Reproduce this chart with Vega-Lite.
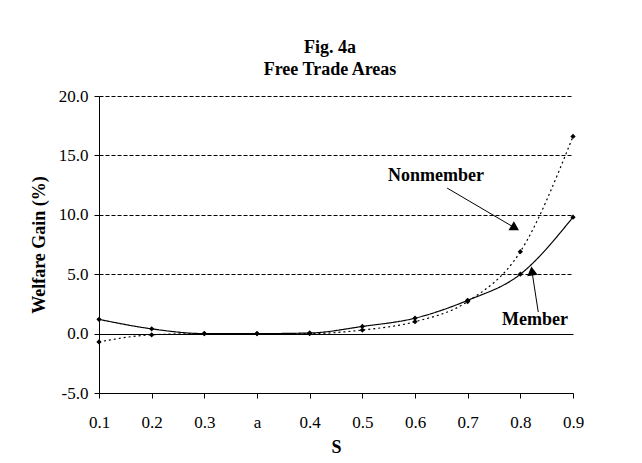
{
  "$schema": "https://vega.github.io/schema/vega-lite/v6.json",
  "width": 474,
  "height": 297,
  "autosize": {"type": "none"},
  "padding": {"left": 99, "top": 96, "right": 69, "bottom": 70},
  "background": "white",
  "config": {
    "view": {"stroke": null},
    "font": "Liberation Serif",
    "axis": {"labelFont": "Liberation Serif", "titleFont": "Liberation Serif", "labelColor": "black", "titleColor": "black", "domainColor": "black", "tickColor": "black", "domain": true, "domainWidth": 1}
  },
  "title": {
    "text": ["Fig. 4a", "Free Trade Areas"],
    "font": "Liberation Serif",
    "fontSize": 18,
    "fontWeight": "bold",
    "color": "black",
    "lineHeight": 22,
    "offset": 8,
    "dx": -6
  },
  "datasets": {
    "gain": [
      {"S": "0.1", "i": 0, "series": "Member", "value": 1.2},
      {"S": "0.2", "i": 1, "series": "Member", "value": 0.4},
      {"S": "0.3", "i": 2, "series": "Member", "value": 0.0},
      {"S": "a", "i": 3, "series": "Member", "value": 0.0},
      {"S": "0.4", "i": 4, "series": "Member", "value": 0.05},
      {"S": "0.5", "i": 5, "series": "Member", "value": 0.6},
      {"S": "0.6", "i": 6, "series": "Member", "value": 1.3},
      {"S": "0.7", "i": 7, "series": "Member", "value": 2.8},
      {"S": "0.8", "i": 8, "series": "Member", "value": 5.0},
      {"S": "0.9", "i": 9, "series": "Member", "value": 9.8},
      {"S": "0.1", "i": 0, "series": "Nonmember", "value": -0.7},
      {"S": "0.2", "i": 1, "series": "Nonmember", "value": -0.1},
      {"S": "0.3", "i": 2, "series": "Nonmember", "value": 0.0},
      {"S": "a", "i": 3, "series": "Nonmember", "value": 0.0},
      {"S": "0.4", "i": 4, "series": "Nonmember", "value": 0.0},
      {"S": "0.5", "i": 5, "series": "Nonmember", "value": 0.3},
      {"S": "0.6", "i": 6, "series": "Nonmember", "value": 1.0},
      {"S": "0.7", "i": 7, "series": "Nonmember", "value": 2.7},
      {"S": "0.8", "i": 8, "series": "Nonmember", "value": 6.9},
      {"S": "0.9", "i": 9, "series": "Nonmember", "value": 16.6}
    ],
    "notes": [
      {"name": "Nonmember", "tx": 6.40, "ty": 13.27, "ax": 6.61, "ay": 12.25, "hx": 7.9, "hy": 8.89},
      {"name": "Member", "tx": 8.28, "ty": 1.14, "ax": 8.34, "ay": 1.82, "hx": 8.22, "hy": 5.27}
    ]
  },
  "layer": [
    {
      "data": {"name": "gain"},
      "mark": {"type": "line", "color": "black", "strokeWidth": 1.2, "interpolate": "monotone"},
      "encoding": {
        "x": {
          "field": "i", "type": "quantitative",
          "scale": {"domain": [0, 9], "nice": false, "zero": false},
          "axis": {
            "title": "S", "titleFontSize": 18, "titleFontWeight": "bold", "titlePadding": 8,
            "values": [0, 1, 2, 3, 4, 5, 6, 7, 8, 9],
            "labelExpr": "['0.1','0.2','0.3','a','0.4','0.5','0.6','0.7','0.8','0.9'][datum.value]",
            "labelFontSize": 17, "labelPadding": 16, "tickSize": 5, "grid": false, "labelFlush": false
          }
        },
        "y": {
          "field": "value", "type": "quantitative",
          "scale": {"domain": [-5, 20], "nice": false, "zero": false},
          "axis": {
            "title": "Welfare Gain (%)", "titleFontSize": 18, "titleFontWeight": "bold", "titlePadding": 10,
            "values": [-5, -2.5, 0, 2.5, 5, 7.5, 10, 12.5, 15, 17.5, 20],
            "labelExpr": "datum.value % 5 == 0 ? replace(format(datum.value, '.1f'), '\u2212', '-') : ''",
            "labelFontSize": 17, "labelPadding": 6, "tickSize": 5, "domain": true,
            "grid": true, "gridColor": "black", "gridWidth": 1,
            "gridOpacity": {"condition": {"test": "datum.value % 5 == 0 && datum.value > -5", "value": 1}, "value": 0},
            "gridDash": {"condition": {"test": "datum.value == 0", "value": []}, "value": [4, 2]}
          }
        },
        "strokeDash": {
          "field": "series", "type": "nominal",
          "scale": {"domain": ["Member", "Nonmember"], "range": [[1, 0], [2, 3]]},
          "legend": null
        }
      }
    },
    {
      "data": {"name": "gain"},
      "mark": {"type": "point", "shape": "diamond", "filled": true, "color": "black", "size": 28, "opacity": 1},
      "encoding": {
        "x": {"field": "i", "type": "quantitative"},
        "y": {"field": "value", "type": "quantitative"}
      }
    },
    {
      "mark": {"type": "rule", "color": "black", "strokeWidth": 1},
      "encoding": {"x": {"datum": 9}}
    },
    {
      "mark": {"type": "rule", "color": "black", "strokeWidth": 1},
      "encoding": {"x": {"datum": 0}}
    },
    {
      "data": {"name": "notes"},
      "mark": {"type": "rule", "color": "black", "strokeWidth": 1},
      "encoding": {
        "x": {"field": "ax", "type": "quantitative"},
        "y": {"field": "ay", "type": "quantitative"},
        "x2": {"field": "hx"},
        "y2": {"field": "hy"}
      }
    },
    {
      "data": {"name": "notes"},
      "transform": [{"filter": "datum.name == 'Nonmember'"}],
      "mark": {"type": "point", "shape": "triangle-up", "filled": true, "color": "black", "size": 110, "opacity": 1, "angle": 121},
      "encoding": {
        "x": {"field": "hx", "type": "quantitative"},
        "y": {"field": "hy", "type": "quantitative"}
      }
    },
    {
      "data": {"name": "notes"},
      "transform": [{"filter": "datum.name == 'Member'"}],
      "mark": {"type": "point", "shape": "triangle-up", "filled": true, "color": "black", "size": 110, "opacity": 1, "angle": 353},
      "encoding": {
        "x": {"field": "hx", "type": "quantitative"},
        "y": {"field": "hy", "type": "quantitative"}
      }
    },
    {
      "data": {"name": "notes"},
      "mark": {"type": "text", "font": "Liberation Serif", "fontSize": 18, "fontWeight": "bold", "color": "black", "align": "center", "baseline": "middle"},
      "encoding": {
        "x": {"field": "tx", "type": "quantitative"},
        "y": {"field": "ty", "type": "quantitative"},
        "text": {"field": "name"}
      }
    }
  ]
}
